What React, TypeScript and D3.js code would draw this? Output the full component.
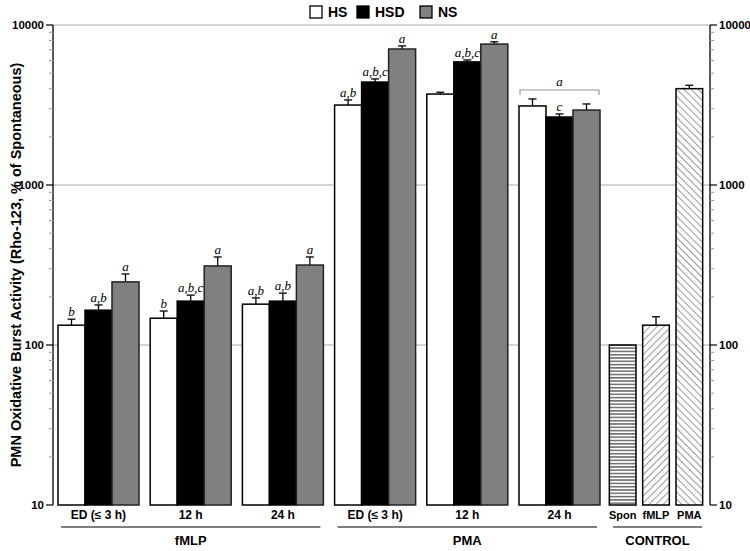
import React from "react";
import * as d3 from "d3";

const groups = ["ED (\u2264 3 h)", "12 h", "24 h", "ED (\u2264 3 h)", "12 h", "24 h"];
const stimuli = ["fMLP", "PMA"];
const seriesNames = ["HS", "HSD", "NS"];
const hsValues = [133, 147, 180, 3160, 3700, 3120];
const hsdValues = [165, 188, 188, 4400, 5880, 2660];
const nsValues = [248, 312, 316, 7080, 7600, 2940];
const hsErr = [145, 163, 197, 3400, 3800, 3450];
const hsdErr = [178, 205, 211, 4600, 6050, 2780];
const nsErr = [278, 355, 355, 7400, 7850, 3210];
const hsLabels = ["b", "b", "a,b", "a,b", "", ""];
const hsdLabels = ["a,b", "a,b,c", "a,b", "a,b,c", "a,b,c", "c"];
const nsLabels = ["a", "a", "a", "a", "a", ""];
const controlCats = ["Spon", "fMLP", "PMA"];
const controlValues = [100, 133, 4000];
const controlErr = [100, 150, 4200];
const bracketLabel = "a";
const majorTicks = [10, 100, 1000, 10000];
const yTitle = "PMN Oxidative Burst  Activity (Rho-123, % of Spontaneous)";

const W = 750, H = 551;
const fills = ["#ffffff", "#000000", "#808080"];

export default function App() {
  const y = d3.scaleLog().domain([10, 10000]).range([505, 25]);
  const xLeft = 53, xRight = 710;
  const groupStep = 92.2, g0 = 58, bw = 27;
  const gx = (i: number) => g0 + i * groupStep;
  const ctrlX = d3.scaleBand().domain(controlCats).range([606, 706]).paddingInner(0.2).paddingOuter(0.1);

  const minor: number[] = [];
  for (let d = 10; d < 10000; d *= 10) for (let k = 2; k <= 9; k++) minor.push(d * k);

  const series = [
    { vals: hsValues, errs: hsErr, labels: hsLabels },
    { vals: hsdValues, errs: hsdErr, labels: hsdLabels },
    { vals: nsValues, errs: nsErr, labels: nsLabels },
  ];

  const bold = { fontFamily: "Liberation Sans, Arial, sans-serif", fontWeight: 700 as const };
  const ital = { fontFamily: "Liberation Serif, Times New Roman, serif", fontStyle: "italic" as const, fontSize: 13 };

  const errBar = (x: number, top: number, v: number, key: string) => (
    <g key={key} stroke="#000" strokeWidth={1.3}>
      <line x1={x} x2={x} y1={y(v)} y2={y(top)} />
      <line x1={x - 4} x2={x + 4} y1={y(top)} y2={y(top)} />
    </g>
  );

  const b5 = 5;
  return (
    <svg width={W} height={H} style={{ position: "absolute", left: 0, top: 0, background: "#fff" }}>
      <defs>
        <pattern id="hpat" width={6} height={3.3} patternUnits="userSpaceOnUse">
          <line x1={0} x2={6} y1={1.6} y2={1.6} stroke="#333" strokeWidth={1.1} />
        </pattern>
        <pattern id="d1" width={5} height={5} patternUnits="userSpaceOnUse" patternTransform="rotate(45)">
          <line x1={0} x2={0} y1={0} y2={5} stroke="#333" strokeWidth={1} />
        </pattern>
        <pattern id="d2" width={5} height={5} patternUnits="userSpaceOnUse" patternTransform="rotate(-45)">
          <line x1={0} x2={0} y1={0} y2={5} stroke="#333" strokeWidth={1} />
        </pattern>
      </defs>

      {[100, 1000, 10000].map((t) => (
        <line key={"g" + t} x1={xLeft} x2={xRight} y1={y(t)} y2={y(t)} stroke="#aaa" strokeWidth={1.2} />
      ))}

      {[xLeft, xRight].map((ax, ai) => {
        const dir = ai === 0 ? -1 : 1;
        return (
          <g key={"ax" + ai}>
            <line x1={ax} x2={ax} y1={y(10000)} y2={y(10)} stroke="#000" strokeWidth={1.3} />
            {majorTicks.map((t) => (
              <g key={t}>
                <line x1={ax} x2={ax + dir * 7} y1={y(t)} y2={y(t)} stroke="#000" strokeWidth={1.2} />
                <text x={ax + dir * 9} y={y(t)} dy="0.35em" textAnchor={ai === 0 ? "end" : "start"} fontSize={11.5} {...bold}>
                  {t}
                </text>
              </g>
            ))}
            {minor.map((t) => (
              <line key={"m" + t} x1={ax} x2={ax + dir * 4} y1={y(t)} y2={y(t)} stroke="#999" strokeWidth={1} />
            ))}
          </g>
        );
      })}

      {groups.map((g, gi) =>
        series.map((s, si) => {
          const x = gx(gi) + si * bw;
          const v = s.vals[gi];
          return (
            <g key={gi + "-" + si}>
              {errBar(x + bw / 2, s.errs[gi], v, "e")}
              <rect x={x} y={y(v)} width={bw} height={y(10) - y(v)} fill={fills[si]} stroke={si === 2 ? "#222" : "#000"} strokeWidth={1.5} />
              {s.labels[gi] && (
                <text x={x + bw / 2} y={y(s.errs[gi]) - 3} textAnchor="middle" {...ital}>
                  {s.labels[gi]}
                </text>
              )}
            </g>
          );
        })
      )}

      {(() => {
        const x1 = gx(5) + 1, x2 = gx(5) + 3 * bw - 1;
        const by = 90;
        return (
          <g>
            <path d={`M${x1},${by + b5}V${by}H${x2}V${by + b5}`} fill="none" stroke="#999" strokeWidth={1.2} />
            <text x={(x1 + x2) / 2} y={by - 4} textAnchor="middle" {...ital}>{bracketLabel}</text>
          </g>
        );
      })()}

      {controlCats.map((c, i) => {
        const x = ctrlX(c)!;
        const w = ctrlX.bandwidth();
        const v = controlValues[i];
        const pat = ["url(#hpat)", "url(#d1)", "url(#d2)"][i];
        return (
          <g key={c}>
            {controlErr[i] > v && errBar(x + w / 2, controlErr[i], v, "ce")}
            <rect x={x} y={y(v)} width={w} height={y(10) - y(v)} fill="#fff" />
            <rect x={x} y={y(v)} width={w} height={y(10) - y(v)} fill={pat} stroke="#000" strokeWidth={1.5} />
            <text x={x + w / 2} y={519} textAnchor="middle" fontSize={11} {...bold}>{c}</text>
          </g>
        );
      })}

      {groups.map((g, gi) => (
        <text key={"gl" + gi} x={gx(gi) + 1.5 * bw} y={519} textAnchor="middle" fontSize={12} {...bold}>
          {g}
        </text>
      ))}

      {stimuli.map((s, si) => {
        const x1 = gx(si * 3) + 3, x2 = gx(si * 3 + 2) + 3 * bw - 3;
        return (
          <g key={s}>
            <line x1={x1} x2={x2} y1={527} y2={527} stroke="#555" strokeWidth={1.5} />
            <text x={(x1 + x2) / 2} y={545} textAnchor="middle" fontSize={13} {...bold}>{s}</text>
          </g>
        );
      })}
      <line x1={613} x2={702} y1={527} y2={527} stroke="#555" strokeWidth={1.5} />
      <text x={657.5} y={545} textAnchor="middle" fontSize={13} {...bold}>CONTROL</text>

      <text transform={`translate(21,265) rotate(-90)`} textAnchor="middle" fontSize={14.5} {...bold}>
        {yTitle}
      </text>

      {seriesNames.map((n, i) => {
        const lx = [310, 357, 420][i];
        return (
          <g key={n}>
            <rect x={lx} y={6} width={12} height={12} fill={fills[i]} stroke="#000" strokeWidth={1.3} />
            <text x={lx + 18} y={17} fontSize={14} {...bold}>{n}</text>
          </g>
        );
      })}
    </svg>
  );
}
